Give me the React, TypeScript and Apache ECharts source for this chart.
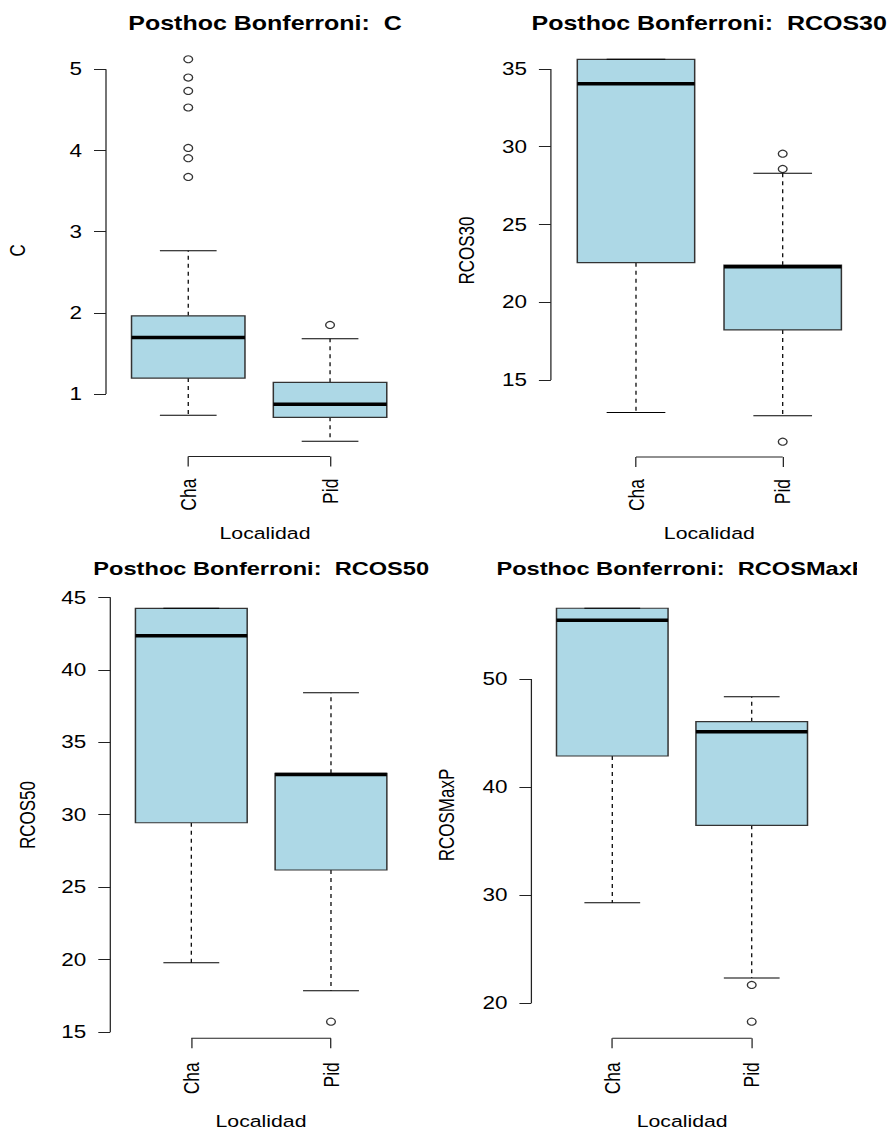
import React, { useEffect, useRef } from "react";
import * as echarts from "echarts";

// ---------- data ----------
const categories = ["Cha", "Pid"];
const xAxisTitle = "Localidad";
const titles = [
  "Posthoc Bonferroni:  C",
  "Posthoc Bonferroni:  RCOS30",
  "Posthoc Bonferroni:  RCOS50",
  "Posthoc Bonferroni:  RCOSMaxP",
];
const yNames = ["C", "RCOS30", "RCOS50", "RCOSMaxP"];

// [lower whisker, Q1, median, Q3, upper whisker]
const cCha = [0.738, 1.197, 1.698, 1.964, 2.764];
const cPid = [0.418, 0.713, 0.873, 1.144, 1.68];
const cChaOut = [5.123, 4.898, 4.733, 4.529, 4.031, 3.905, 3.674];
const cPidOut = [1.851];
const cTicks = [1, 2, 3, 4, 5];

const r30Cha = [12.9, 22.54, 34.04, 35.62, 35.62];
const r30Pid = [12.7, 18.22, 22.28, 22.38, 28.29];
const r30ChaOut: number[] = [];
const r30PidOut = [29.55, 28.57, 11.03];
const r30Ticks = [15, 20, 25, 30, 35];

const r50Cha = [19.78, 29.44, 42.35, 44.24, 44.24];
const r50Pid = [17.85, 26.18, 32.77, 32.85, 38.42];
const r50ChaOut: number[] = [];
const r50PidOut = [15.71];
const r50Ticks = [15, 20, 25, 30, 35, 40, 45];

const maxCha = [29.29, 42.87, 55.43, 56.55, 56.55];
const maxPid = [22.31, 36.45, 45.12, 46.05, 48.36];
const maxChaOut: number[] = [];
const maxPidOut = [21.67, 18.27];
const maxTicks = [20, 30, 40, 50];

const panelsData = [
  { boxes: [cCha, cPid], outs: [cChaOut, cPidOut], ticks: cTicks },
  { boxes: [r30Cha, r30Pid], outs: [r30ChaOut, r30PidOut], ticks: r30Ticks },
  { boxes: [r50Cha, r50Pid], outs: [r50ChaOut, r50PidOut], ticks: r50Ticks },
  { boxes: [maxCha, maxPid], outs: [maxChaOut, maxPidOut], ticks: maxTicks },
];

// ---------- layout (page pixels) ----------
const PAGE_W = 889;
const PAGE_H = 1131;
const CW = 711;
const K = PAGE_W / CW; // horizontal stretch of the reference

const layout = [
  { left: 106, right: 412.3, top: 44, bottom: 456.6, tx: 265, ty: 23.7, tf: 20, lx: 265, ly: 533.3, lm: 22, ng: 81 },
  { left: 550.9, right: 867.8, top: 44, bottom: 457, tx: 709.2, ty: 23.7, tf: 20, lx: 709.3, ly: 533.3, lm: 22, ng: 77 },
  { left: 110.3, right: 412, top: 591.8, bottom: 1038.2, tx: 261.2, ty: 569.2, tf: 18.9, lx: 261, ly: 1121.7, lm: 24, ng: 75 },
  { left: 531.4, right: 832.6, top: 591.7, bottom: 1038.2, tx: 682, ty: 569.2, tf: 18.9, lx: 682.2, ly: 1121.7, lm: 24, ng: 77 },
];

const FONT = "'Liberation Sans', Arial, Helvetica, sans-serif";
const BOX_FILL = "#ADD8E6";
const BOX_HALF = 0.4;
const STAPLE_HALF = 0.2;

function buildOption() {
  const positions = categories.map((_, i) => i + 1);
  const xLo = 0.5;
  const xHi = categories.length + 0.5;
  const xExt = (xHi - xLo) * 0.04;
  const xMin = xLo - xExt;
  const xMax = xHi + xExt;

  const grids: any[] = [];
  const xAxes: any[] = [];
  const yAxes: any[] = [];
  const series: any[] = [];
  const graphics: any[] = [];

  panelsData.forEach((pd, i) => {
    const L = layout[i];
    const all = [...pd.boxes.flat(), ...pd.outs.flat()];
    const vMin = Math.min(...all);
    const vMax = Math.max(...all);
    const ext = (vMax - vMin) * 0.04;
    const yMin = vMin - ext;
    const yMax = vMax + ext;

    grids.push({
      left: L.left / K,
      top: L.top,
      width: (L.right - L.left) / K,
      height: L.bottom - L.top,
      containLabel: false,
      outerBoundsMode: "none",
    });

    xAxes.push({
      gridIndex: i,
      type: "value",
      min: xMin,
      max: xMax,
      axisLine: { show: false },
      splitLine: { show: false },
      axisTick: {
        show: true,
        customValues: positions,
        length: 10,
        lineStyle: { color: "#222", width: 1 },
      },
      axisLabel: {
        customValues: positions,
        rotate: 90,
        margin: L.lm,
        formatter: (v: number) => categories[Math.round(v) - 1] ?? "",
        fontSize: 17.5,
        color: "#000",
        fontFamily: FONT,
      },
    });

    yAxes.push({
      gridIndex: i,
      type: "value",
      min: yMin,
      max: yMax,
      axisLine: { show: false },
      splitLine: { show: false },
      axisTick: {
        show: true,
        customValues: pd.ticks,
        length: 12 / K,
        lineStyle: { color: "#222", width: 1 },
      },
      axisLabel: {
        customValues: pd.ticks,
        margin: 24 / K,
        fontSize: 18,
        color: "#000",
        fontFamily: FONT,
      },
      name: yNames[i],
      nameLocation: "middle",
      nameRotate: 90,
      nameGap: L.ng / K - 2.5,
      nameTextStyle: { fontSize: 17, color: "#000", fontFamily: FONT },
    });

    // axis frame: y axis line over tick range, x bracket between the groups
    const ticks = pd.ticks;
    series.push({
      type: "custom",
      xAxisIndex: i,
      yAxisIndex: i,
      clip: false,
      silent: true,
      data: [[positions[0], ticks[0]]],
      renderItem: (_p: any, api: any) => {
        const a = api.coord([xMin, ticks[0]]);
        const b = api.coord([xMin, ticks[ticks.length - 1]]);
        const c = api.coord([positions[0], yMin]);
        const d = api.coord([positions[positions.length - 1], yMin]);
        return {
          type: "group",
          children: [
            { type: "line", shape: { x1: a[0], y1: a[1], x2: b[0], y2: b[1] }, style: { stroke: "#222", lineWidth: 1 } },
            { type: "line", shape: { x1: c[0], y1: c[1], x2: d[0], y2: d[1] }, style: { stroke: "#222", lineWidth: 1 } },
          ],
        };
      },
    });

    // boxes
    series.push({
      type: "custom",
      xAxisIndex: i,
      yAxisIndex: i,
      clip: false,
      encode: { x: 0, y: [1, 2, 3, 4, 5] },
      data: pd.boxes.map((b, j) => [positions[j], ...b]),
      renderItem: (_p: any, api: any) => {
        const x = api.value(0);
        const lo = api.value(1);
        const q1 = api.value(2);
        const med = api.value(3);
        const q3 = api.value(4);
        const hi = api.value(5);
        const tl = api.coord([x - BOX_HALF, q3]);
        const br = api.coord([x + BOX_HALF, q1]);
        const cQ3 = api.coord([x, q3]);
        const cQ1 = api.coord([x, q1]);
        const cHi = api.coord([x, hi]);
        const cLo = api.coord([x, lo]);
        const sL = api.coord([x - STAPLE_HALF, hi]);
        const sR = api.coord([x + STAPLE_HALF, hi]);
        const lL = api.coord([x - STAPLE_HALF, lo]);
        const lR = api.coord([x + STAPLE_HALF, lo]);
        const mL = api.coord([x - BOX_HALF, med]);
        const mR = api.coord([x + BOX_HALF, med]);
        const dash = { stroke: "#000", lineWidth: 1, lineDash: [4, 4] };
        const solid = { stroke: "#000", lineWidth: 1 };
        return {
          type: "group",
          children: [
            { type: "line", shape: { x1: cQ3[0], y1: cQ3[1], x2: cHi[0], y2: cHi[1] }, style: dash },
            { type: "line", shape: { x1: cQ1[0], y1: cQ1[1], x2: cLo[0], y2: cLo[1] }, style: dash },
            {
              type: "rect",
              shape: { x: tl[0], y: tl[1], width: br[0] - tl[0], height: br[1] - tl[1] },
              style: { fill: BOX_FILL, stroke: "#333", lineWidth: 1.2 },
            },
            { type: "line", shape: { x1: mL[0], y1: mL[1], x2: mR[0], y2: mR[1] }, style: { stroke: "#000", lineWidth: 3.5 } },
            { type: "line", shape: { x1: sL[0], y1: sL[1], x2: sR[0], y2: sR[1] }, style: solid },
            { type: "line", shape: { x1: lL[0], y1: lL[1], x2: lR[0], y2: lR[1] }, style: solid },
          ],
        };
      },
    });

    // outliers
    series.push({
      type: "scatter",
      xAxisIndex: i,
      yAxisIndex: i,
      symbol: "circle",
      symbolSize: 7,
      itemStyle: { color: "rgba(0,0,0,0)", borderColor: "#000", borderWidth: 1.1 },
      data: pd.outs.flatMap((arr, j) => arr.map((v) => [positions[j], v])),
    });

    graphics.push({
      type: "text",
      x: L.tx / K,
      y: L.ty,
      style: {
        text: titles[i],
        fill: "#000",
        fontSize: L.tf,
        fontWeight: "bold",
        fontFamily: FONT,
        align: "center",
        verticalAlign: "middle",
        textAlign: "center",
        textVerticalAlign: "middle",
      },
    });
    graphics.push({
      type: "text",
      x: L.lx / K,
      y: L.ly,
      style: {
        text: xAxisTitle,
        fill: "#000",
        fontSize: 17,
        fontFamily: FONT,
        align: "center",
        verticalAlign: "middle",
        textAlign: "center",
        textVerticalAlign: "middle",
      },
    });
  });

  // the reference clips the last title at the right
  graphics.push({
    type: "rect",
    z: 100,
    shape: { x: 857 / K, y: 552, width: (PAGE_W - 857) / K + 2, height: 34 },
    style: { fill: "#fff" },
  });

  return {
    animation: false,
    backgroundColor: "#fff",
    grid: grids,
    xAxis: xAxes,
    yAxis: yAxes,
    series,
    graphic: graphics,
  };
}

export default function App() {
  const ref = useRef<HTMLDivElement>(null);
  useEffect(() => {
    if (!ref.current) return;
    const chart = echarts.init(ref.current, null, { renderer: "svg" });
    chart.setOption(buildOption() as any);
    return () => chart.dispose();
  }, []);
  return (
    <div
      style={{
        position: "absolute",
        left: 0,
        top: 0,
        width: PAGE_W,
        height: PAGE_H,
        overflow: "hidden",
        background: "#fff",
      }}
    >
      <div
        ref={ref}
        style={{ width: CW, height: PAGE_H, transform: `scaleX(${K})`, transformOrigin: "0 0" }}
      />
    </div>
  );
}
